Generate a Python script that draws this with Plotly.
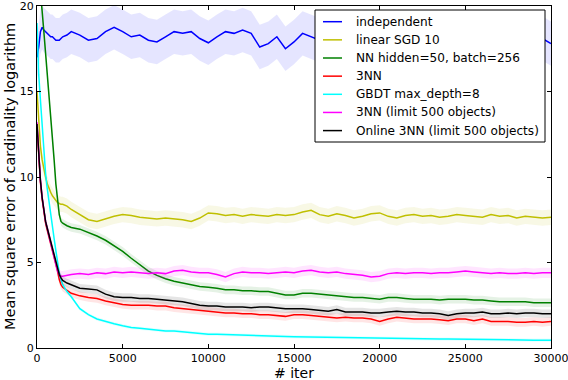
import plotly.graph_objects as go

# iteraciones (eje x), mas densas al principio donde las curvas caen rapido
iteraciones = list(range(0, 1600, 100)) + [1750] + list(range(2000, 30001, 500))

independent = [17.0, 17.6, 18.5, 18.75, 18.6, 18.5, 18.4, 18.3, 18.2, 18.2, 18.1, 18.0, 18.0, 18.0, 18.1, 18.2, 18.3,
               18.5, 18.3, 18.0, 18.1, 18.5, 18.75, 18.5, 18.2, 18.3, 18.0,
               17.9, 18.2, 18.5, 18.4, 18.5, 18.1, 17.85, 18.2, 18.5, 18.4,
               18.6, 18.4, 17.6, 17.8, 18.2, 17.5, 17.9, 18.4, 18.2, 18.0,
               18.3, 18.1, 17.9, 18.4, 18.2, 18.0, 18.3, 18.1, 17.8, 18.2,
               18.4, 18.1, 17.9, 18.3, 18.0, 18.2, 17.9, 18.3, 18.1, 18.0,
               18.3, 18.0, 17.8, 18.2, 18.0, 18.1, 17.8]

linear_sgd = [15.0, 13.0, 11.8, 11.0, 10.4, 10.0, 9.6, 9.3, 9.1, 8.9, 8.75, 8.6, 8.5, 8.45, 8.4, 8.4, 8.3,
              8.1, 7.8, 7.5, 7.4, 7.55, 7.7, 7.8, 7.75, 7.65, 7.6,
              7.55, 7.6, 7.55, 7.5, 7.4, 7.6, 7.9, 7.85, 7.75, 7.8,
              7.7, 7.8, 7.75, 7.7, 7.8, 7.75, 7.8, 7.95, 8.05, 7.8,
              7.7, 7.85, 7.75, 7.6, 7.7, 7.85, 7.9, 7.7, 7.6, 7.75,
              7.8, 7.7, 7.75, 7.65, 7.7, 7.8, 7.75, 7.7, 7.65, 7.8,
              7.7, 7.75, 7.6, 7.7, 7.65, 7.6, 7.65]

nn_hidden = [23.0, 22.0, 21.0, 19.7, 18.5, 17.3, 16.0, 14.8, 13.6, 12.3, 11.0, 9.6, 8.6, 7.8, 7.4, 7.3, 7.15,
             7.05, 6.95, 6.75, 6.55, 6.3, 6.0, 5.65, 5.25, 4.9, 4.5,
             4.25, 4.05, 3.9, 3.8, 3.7, 3.6, 3.55, 3.5, 3.4, 3.4,
             3.35, 3.35, 3.3, 3.3, 3.2, 3.1, 3.1, 3.2, 3.2, 3.15,
             3.1, 3.05, 3.0, 2.95, 2.95, 2.9, 2.85, 2.95, 2.95, 2.9,
             2.85, 2.85, 2.85, 2.8, 2.85, 2.85, 2.85, 2.8, 2.8, 2.75,
             2.7, 2.7, 2.7, 2.7, 2.65, 2.65, 2.65]

knn3 = [13.0, 11.0, 9.7, 8.7, 7.9, 7.3, 6.9, 6.5, 6.1, 5.7, 5.35, 5.0, 4.5, 4.0, 3.7, 3.55, 3.35,
        3.2, 3.05, 2.95, 2.9, 2.75, 2.65, 2.55, 2.5, 2.5, 2.5,
        2.45, 2.45, 2.35, 2.3, 2.25, 2.2, 2.15, 2.1, 2.05, 2.05,
        2.0, 2.0, 1.95, 1.95, 1.9, 1.85, 1.95, 1.95, 1.9, 1.85,
        1.8, 1.75, 1.8, 1.75, 1.75, 1.7, 1.55, 1.7, 1.8, 1.75,
        1.7, 1.7, 1.7, 1.65, 1.6, 1.7, 1.7, 1.6, 1.7, 1.55,
        1.55, 1.55, 1.5, 1.5, 1.55, 1.5, 1.55]

gbdt = [19.0, 16.0, 14.5, 13.0, 11.5, 10.2, 9.3, 8.5, 7.8, 7.1, 6.4, 5.7, 5.0, 4.4, 4.0, 3.7, 3.3,
        3.0, 2.3, 1.95, 1.7, 1.55, 1.42, 1.3, 1.2, 1.15, 1.1,
        1.05, 1.0, 1.0, 0.95, 0.9, 0.85, 0.8, 0.8, 0.78, 0.75,
        0.73, 0.72, 0.7, 0.7, 0.68, 0.67, 0.66, 0.65, 0.65, 0.64,
        0.63, 0.62, 0.62, 0.6, 0.6, 0.58, 0.58, 0.57, 0.57, 0.56,
        0.55, 0.54, 0.53, 0.52, 0.52, 0.51, 0.5, 0.5, 0.49, 0.49,
        0.48, 0.48, 0.47, 0.47, 0.46, 0.46, 0.45]

knn3_limit = [13.2, 11.1, 9.8, 8.8, 8.0, 7.4, 7.0, 6.6, 6.2, 5.8, 5.4, 5.0, 4.5, 4.3, 4.2, 4.2, 4.25,
              4.3, 4.35, 4.3, 4.4, 4.35, 4.45, 4.4, 4.45, 4.4, 4.35,
              4.4, 4.35, 4.5, 4.55, 4.45, 4.4, 4.4, 4.3, 4.15, 4.35,
              4.45, 4.4, 4.4, 4.35, 4.4, 4.45, 4.4, 4.5, 4.55, 4.45,
              4.4, 4.45, 4.35, 4.3, 4.25, 4.15, 4.2, 4.35, 4.4, 4.35,
              4.4, 4.4, 4.35, 4.4, 4.4, 4.45, 4.5, 4.45, 4.4, 4.35,
              4.4, 4.35, 4.35, 4.4, 4.35, 4.4, 4.4]

online_knn3 = [13.1, 11.1, 9.8, 8.8, 8.0, 7.4, 7.0, 6.6, 6.2, 5.8, 5.45, 5.1, 4.6, 4.3, 4.1, 3.95, 3.8,
               3.7, 3.5, 3.45, 3.4, 3.15, 3.0, 2.95, 2.95, 2.9, 2.9,
               2.85, 2.8, 2.75, 2.7, 2.6, 2.5, 2.45, 2.45, 2.4, 2.4,
               2.4, 2.35, 2.4, 2.4, 2.35, 2.3, 2.3, 2.3, 2.25, 2.2,
               2.15, 2.25, 2.1, 2.1, 2.1, 2.05, 2.05, 2.1, 2.15, 2.1,
               2.1, 2.05, 2.05, 2.0, 1.9, 2.0, 2.05, 2.05, 2.1, 2.0,
               2.0, 2.05, 2.0, 2.05, 2.05, 2.0, 2.0]

nombres = ["independent", "linear SGD 10", "NN hidden=50, batch=256", "3NN",
           "GBDT max_depth=8", "3NN (limit 500 objects)", "Online 3NN (limit 500 objects)"]
series = [independent, linear_sgd, nn_hidden, knn3, gbdt, knn3_limit, online_knn3]
# desviacion aproximada de cada curva (ancho de la banda)
desviacion = [1.3, 0.45, 0.25, 0.25, 0.1, 0.3, 0.25]

x_ticks = [0, 5000, 10000, 15000, 20000, 25000, 30000]
y_ticks = [0, 5, 10, 15, 20]

colores = ["0,0,255", "191,191,0", "0,128,0", "255,0,0", "0,255,255", "255,0,255", "0,0,0"]

# tamaño de la figura y del area de dibujo (en pixeles)
W, H = 568, 380
L, R, T, B = 37, 17, 6, 32
ancho = W - L - R
alto = H - T - B


def px_a_paper(x_px, y_px):
    #pasamos pixeles de la pagina a coordenadas "paper" de plotly
    return (x_px - L) / ancho, (H - B - y_px) / alto


fig = go.Figure()

for nombre, valores, sd, c in zip(nombres, series, desviacion, colores):
    #banda alrededor de la media
    arriba = [v + sd for v in valores]
    abajo = [v - sd for v in valores]
    fig.add_trace(go.Scatter(x=iteraciones, y=arriba, mode="lines", line=dict(width=0),
                             showlegend=False, hoverinfo="skip"))
    fig.add_trace(go.Scatter(x=iteraciones, y=abajo, mode="lines", line=dict(width=0),
                             fill="tonexty", fillcolor="rgba(%s,0.1)" % c,
                             showlegend=False, hoverinfo="skip"))
    fig.add_trace(go.Scatter(x=iteraciones, y=valores, mode="lines", name=nombre, showlegend=False,
                             line=dict(color="rgb(%s)" % c, width=1.5)))

ejes = dict(showline=True, linecolor="black", linewidth=1, mirror="allticks",
            ticks="inside", ticklen=4, tickcolor="black", showgrid=False, zeroline=False,
            tickfont=dict(size=11, color="black"), automargin=False, ticklabeloverflow="allow")

fig.update_xaxes(range=[0, 30000], tickvals=x_ticks, ticktext=[str(t) for t in x_ticks], **ejes)
fig.update_yaxes(range=[0, 20], tickvals=y_ticks, ticktext=[str(t) for t in y_ticks], **ejes)

#titulos de los ejes como anotaciones para colocarlos a mano
fig.add_annotation(text="# iter", xref="paper", yref="paper", x=0.5, y=0,
                   xanchor="center", yanchor="top", yshift=-15, showarrow=False,
                   font=dict(size=14, color="black"))
fig.add_annotation(text="Mean square error of cardinality logarithm", xref="paper", yref="paper",
                   x=0, y=0.5, xanchor="center", yanchor="middle", xshift=-27, textangle=-90,
                   showarrow=False, font=dict(size=14.5, color="black"))

#leyenda dibujada a mano (caja, lineas y textos) para parecerse a la de matplotlib
x0, y0 = px_a_paper(315, 10)
x1, y1 = px_a_paper(545, 142)
fig.add_shape(type="rect", xref="paper", yref="paper", x0=x0, y0=y1, x1=x1, y1=y0,
              line=dict(color="black", width=1), fillcolor="white", layer="above")
for i, (nombre, c) in enumerate(zip(nombres, colores)):
    y_px = 21.7 + 18.15 * i
    lx0, ly = px_a_paper(323, y_px)
    lx1, _ = px_a_paper(342, y_px)
    tx, _ = px_a_paper(354, y_px)
    fig.add_shape(type="line", xref="paper", yref="paper", x0=lx0, y0=ly, x1=lx1, y1=ly,
                  line=dict(color="rgb(%s)" % c, width=1.5), layer="above")
    fig.add_annotation(text=nombre, xref="paper", yref="paper", x=tx, y=ly,
                       xanchor="left", yanchor="middle", showarrow=False,
                       font=dict(size=12.1, color="black"))

fig.update_layout(
    width=W, height=H,
    margin=dict(l=L, r=R, t=T, b=B),
    plot_bgcolor="white", paper_bgcolor="white",
    font=dict(family="DejaVu Sans", color="black"),
    showlegend=False,
)

# quitamos el margen del body para que la figura empiece en (0,0)
fig.write_html("out.html", post_script="document.body.style.margin='0';",
               config={"displayModeBar": False})
